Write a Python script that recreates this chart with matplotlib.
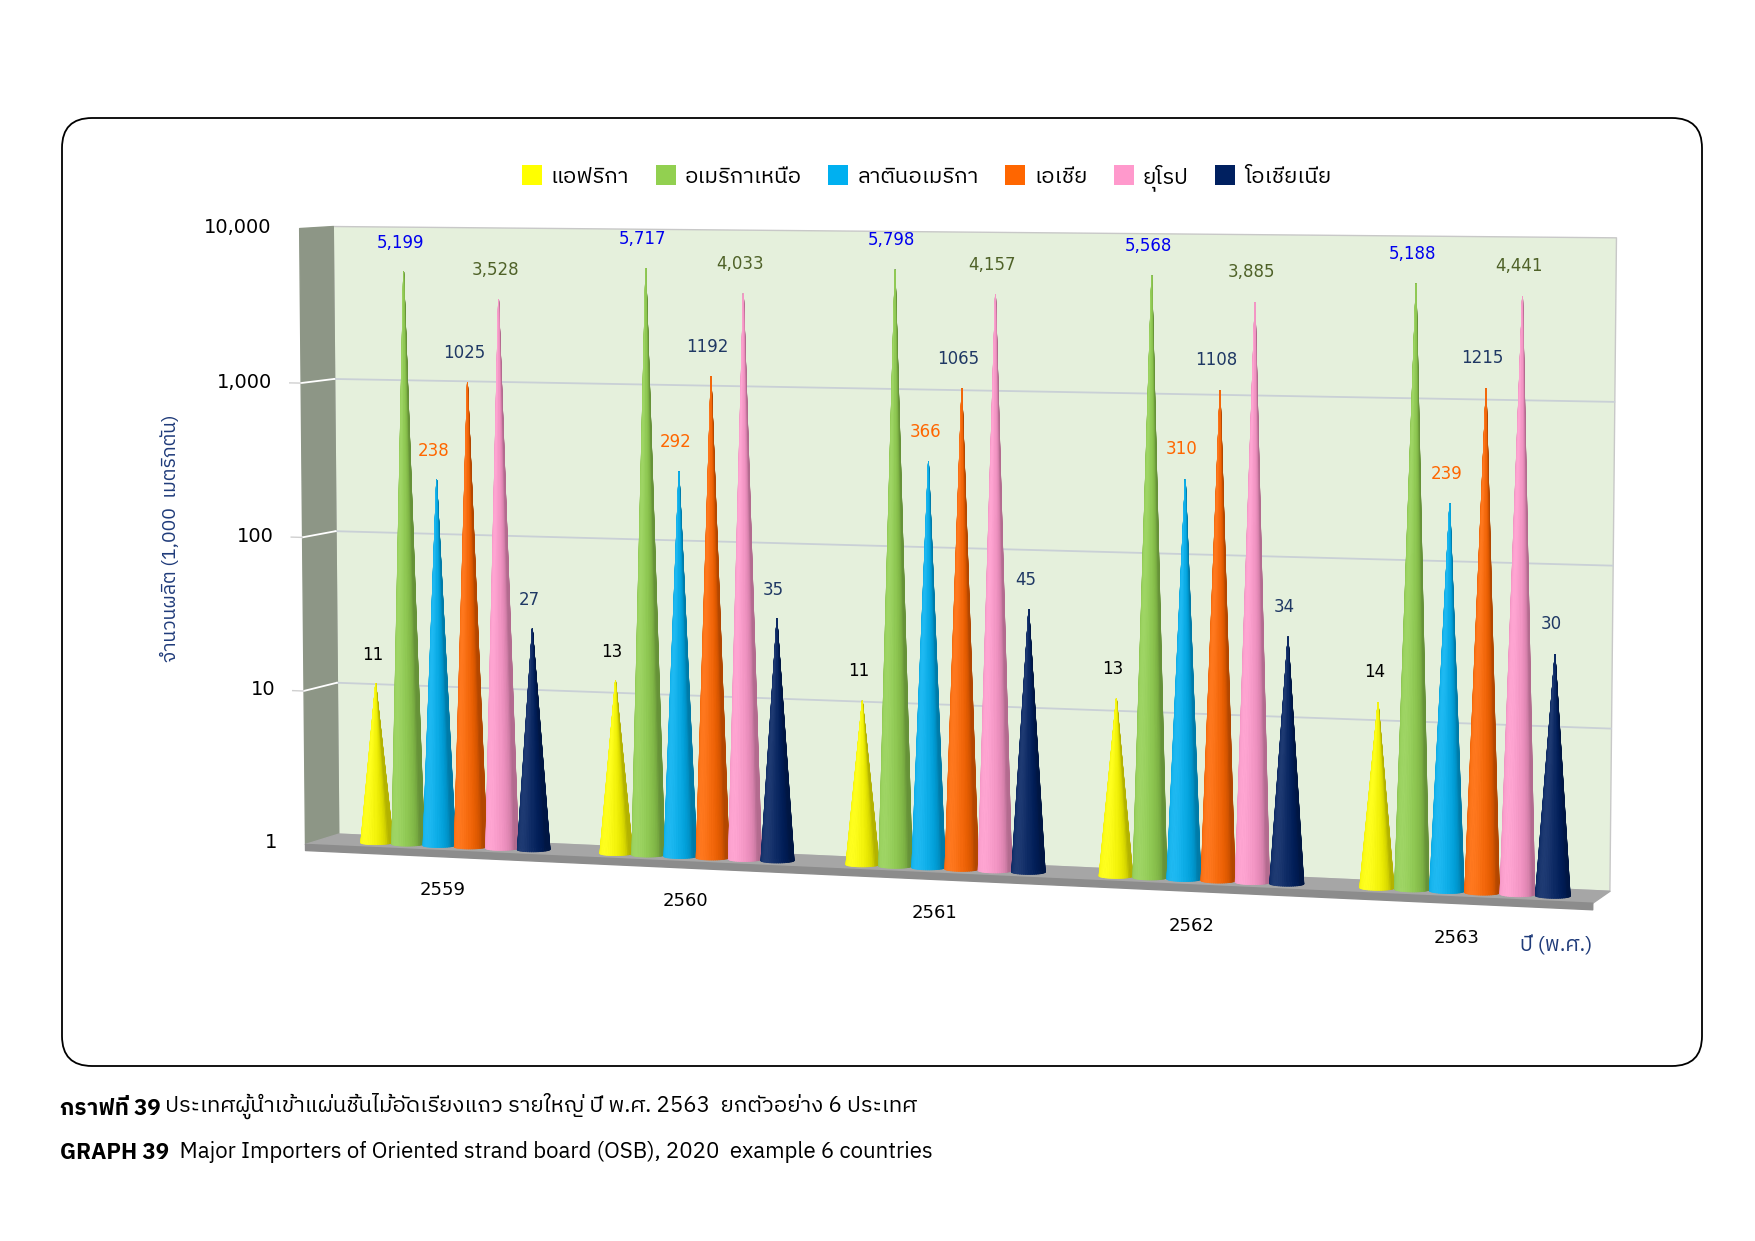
import numpy as np
import matplotlib
matplotlib.use("Agg")
import matplotlib.pyplot as plt
from matplotlib.patches import FancyBboxPatch, Patch
from matplotlib.text import Annotation
from matplotlib.colors import to_rgb
from mpl_toolkits.mplot3d import proj3d
from mpl_toolkits.mplot3d.art3d import Poly3DCollection

THAI = ["IBM Plex Sans Thai", "DejaVu Sans"]
NUM = ["DejaVu Sans"]

# ── data ──────────────────────────────────────────────────────────────────────
years = ["2559", "2560", "2561", "2562", "2563"]
regions = ["แอฟริกา", "อเมริกาเหนือ", "ลาตินอเมริกา", "เอเชีย", "ยุโรป", "โอเชียเนีย"]
africa = [11, 13, 11, 13, 14]
north_america = [5199, 5717, 5798, 5568, 5188]
latin_america = [238, 292, 366, 310, 239]
asia = [1025, 1192, 1065, 1108, 1215]
europe = [3528, 4033, 4157, 3885, 4441]
oceania = [27, 35, 45, 34, 30]
series = [africa, north_america, latin_america, asia, europe, oceania]
y_ticks = [1, 10, 100, 1000, 10000]

cone_colors = ["#ffff00", "#92d050", "#00b0f0", "#ff6600", "#ff99cc", "#002060"]
label_colors = ["#000000", "#0000ee", "#ff6600", "#1f3864", "#4f6228", "#1f3864"]
label_fmt = ["{:d}", "{:,d}", "{:d}", "{:d}", "{:,d}", "{:d}"]

# ── geometry of the 3D box ───────────────────────────────────────────────────
GROUP = 7.6          # width of one year group (cone pitch = 1)
RADIUS = 0.48
DEPTH = 2.4
CONE_Y = 0.95
XMIN = -0.6
XMAX = GROUP * len(years)
ZMAX = np.log10(y_ticks[-1])


def shaded(color, theta, view_az):
    base = np.array(to_rgb(color))
    light = np.clip(np.cos(theta - view_az), 0, 1)
    out = base[None, :] * (0.7 + 0.3 * light[:, None] ** 0.5)
    out += (1 - base[None, :]) * 0.12 * light[:, None] ** 3
    return np.clip(out, 0, 1)


def draw_cone(ax, cx, cy, h, color, z):
    theta = np.linspace(0, 2 * np.pi, 49)
    t = np.array([0.0, 1.0])
    T, TH = np.meshgrid(t, theta)
    X = cx + RADIUS * (1 - T) * np.cos(TH)
    Y = cy + RADIUS * (1 - T) * np.sin(TH)
    Z = T * h
    mid = 0.5 * (theta[:-1] + theta[1:])
    fc = shaded(color, np.r_[mid, mid[-1]], np.deg2rad(-115))
    fcols = np.repeat(fc[:, None, :], 2, axis=1)
    surf = ax.plot_surface(X, Y, Z, facecolors=fcols, shade=False,
                           rstride=1, cstride=1, linewidth=0.6,
                           antialiased=True)
    surf.set_zorder(z)


fig = plt.figure(figsize=(17.55, 12.41), dpi=100)

# rounded frame around the chart
frame = FancyBboxPatch((0.62, 1.75), 16.40, 9.48, boxstyle="round,pad=0,rounding_size=0.3",
                       transform=fig.dpi_scale_trans, facecolor="none",
                       edgecolor="black", linewidth=1.3, zorder=-1)
fig.add_artist(frame)

ax = fig.add_axes([0.021, -0.163, 1.0, 1.4], projection="3d", computed_zorder=False)
ax.set_facecolor("none")
ax.set_axis_off()
ax.set_xlim(XMIN, XMAX)
ax.set_ylim(0, DEPTH)
ax.set_zlim(0, ZMAX)
ax.set_box_aspect((XMAX - XMIN, DEPTH, 18.2), zoom=0.835)
ax.set_proj_type("persp", focal_length=0.6)
ax.view_init(elev=4.8, azim=-72)

# walls and floor
back = [[(XMIN, DEPTH, 0), (XMAX, DEPTH, 0), (XMAX, DEPTH, ZMAX), (XMIN, DEPTH, ZMAX)]]
ax.add_collection3d(Poly3DCollection(back, facecolor="#e5f0dc", edgecolor="#c8c8c8",
                                     linewidth=1, zorder=0.1))
left = [[(XMIN, 0, 0), (XMIN, DEPTH, 0), (XMIN, DEPTH, ZMAX), (XMIN, 0, ZMAX)]]
ax.add_collection3d(Poly3DCollection(left, facecolor="#8d9686", edgecolor="#8d9686",
                                     linewidth=1, zorder=0.2))
floor = [[(XMIN, 0, 0), (XMAX, 0, 0), (XMAX, DEPTH, 0), (XMIN, DEPTH, 0)]]
ax.add_collection3d(Poly3DCollection(floor, facecolor="#a6a6a6", edgecolor="#a6a6a6",
                                     linewidth=1, zorder=0.4))
front = [[(XMIN, 0, -0.04), (XMAX, 0, -0.04), (XMAX, 0, 0), (XMIN, 0, 0)]]
ax.add_collection3d(Poly3DCollection(front, facecolor="#8c8c8c", edgecolor="#8c8c8c",
                                     linewidth=1, zorder=0.45))

# grid lines on the walls
for v in y_ticks[1:-1]:
    k = np.log10(v)
    ax.plot([XMIN, XMAX], [DEPTH, DEPTH], [k, k], color="#c9d0d6", lw=1.3, zorder=0.3)
    ax.plot([XMIN, XMIN], [0, DEPTH], [k, k], color="white", lw=1.3, zorder=0.3)
    ax.plot([XMIN - 0.35, XMIN], [0, 0], [k, k], color="#d0d0d0", lw=1.0, zorder=0.3)

# texts are anchored at 3D points, placed after the projection is known
texts = []
for v in y_ticks:
    texts.append(((XMIN - 0.9, 0, np.log10(v)), f"{v:,}",
                  dict(ha="right", va="center", fontsize=14, family=NUM)))

# cones + labels
for g, year in enumerate(years):
    x0 = g * GROUP + (GROUP - len(series)) / 2 + 0.5
    for i, s in enumerate(series):
        cx = x0 + i
        h = np.log10(s[g])
        draw_cone(ax, cx, CONE_Y, h, cone_colors[i], 1 + g * 0.1 + i * 0.01)
        texts.append(((cx - 0.1, CONE_Y, h + 0.13), label_fmt[i].format(s[g]),
                      dict(ha="center", va="bottom", color=label_colors[i],
                           fontsize=12, family=NUM)))
    texts.append(((x0 + 2.5, 0, -0.2), year,
                  dict(ha="center", va="top", fontsize=13, family=NUM)))

texts.append(((XMAX, 0, -0.2), "ปี (พ.ศ.)",
              dict(ha="right", va="top", fontsize=15, family=THAI, color="#1f3b7a")))

fig.canvas.draw()
for (x, y, z), s, kw in texts:
    px, py, _ = proj3d.proj_transform(x, y, z, ax.M)
    ax.text2D(px, py, s, transform=ax.transData, zorder=6, **kw)

fig.text(0.097, 0.566, "จำนวนผลิต (1,000  เมตริกตัน)", rotation=90, ha="center",
         va="center", fontsize=14, family=THAI, color="#1f3b7a")

# legend
handles = [Patch(facecolor=c, edgecolor="none") for c in cone_colors]
fig.legend(handles, regions, loc="center", bbox_to_anchor=(0.528, 0.857), ncol=6,
           frameon=False, handlelength=0.9, handleheight=1.0, handletextpad=0.4,
           columnspacing=1.2, prop={"family": THAI, "size": 16})

# caption
t1 = fig.text(0.034, 0.098, "กราฟที่ 39", fontsize=16, family=THAI, weight="bold",
              va="bottom")
fig.add_artist(Annotation(" ประเทศผู้นำเข้าแผ่นชิ้นไม้อัดเรียงแถว รายใหญ่ ปี พ.ศ. 2563  ยกตัวอย่าง 6 ประเทศ",
                          xy=(1, 0), xycoords=t1, va="bottom", fontsize=16, family=THAI))
t2 = fig.text(0.034, 0.063, "GRAPH 39", fontsize=16, family=THAI, weight="bold",
              va="bottom")
fig.add_artist(Annotation("  Major Importers of Oriented strand board (OSB), 2020  example 6 countries",
                          xy=(1, 0), xycoords=t2, va="bottom", fontsize=16, family=THAI))

fig.savefig("out.png", dpi=100)
